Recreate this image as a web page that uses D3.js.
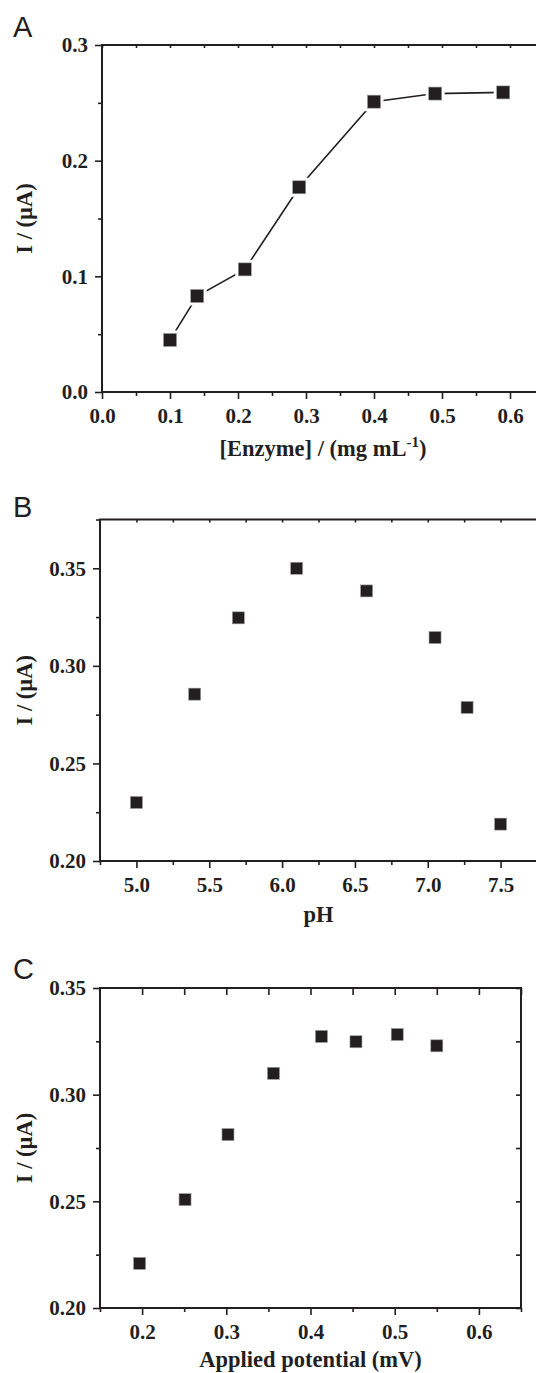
<!DOCTYPE html>
<meta charset="utf-8">
<style>
  body { margin: 0; background: #fff; }
  svg { display: block; }
  .tick text { font: bold 21px "Liberation Serif", "Times New Roman", serif; fill: #231f20; }
  .tick line { stroke: #231f20; stroke-width: 1.6px; }
  .domain { display: none; }
  .title { font: bold 22.5px "Liberation Serif", "Times New Roman", serif; fill: #231f20; }
  .letter { font: 29px "Liberation Sans", Arial, sans-serif; fill: #231f20; }
</style>
<body>
  <div id="svg_frame"></div>
</body>
<script src="https://cdnjs.cloudflare.com/ajax/libs/d3/7.8.5/d3.min.js"></script>
<script>
  // panel A: enzyme loading
  var enzyme = [0.10, 0.14, 0.21, 0.29, 0.40, 0.49, 0.59];
  var currentA = [0.045, 0.083, 0.106, 0.177, 0.251, 0.258, 0.259];
  var ticksAx = [0.0, 0.1, 0.2, 0.3, 0.4, 0.5, 0.6];
  var ticksAy = [0.0, 0.1, 0.2, 0.3];

  // panel B: pH
  var pH = [5.0, 5.4, 5.7, 6.1, 6.58, 7.05, 7.27, 7.5];
  var currentB = [0.230, 0.2855, 0.3246, 0.350, 0.3384, 0.3145, 0.2787, 0.2189];
  var ticksBx = [5.0, 5.5, 6.0, 6.5, 7.0, 7.5];
  var ticksBy = [0.20, 0.25, 0.30, 0.35];

  // panel C: applied potential
  var potential = [0.197, 0.251, 0.302, 0.356, 0.413, 0.454, 0.503, 0.550];
  var currentC = [0.2209, 0.2508, 0.2813, 0.310, 0.3273, 0.3248, 0.3282, 0.3229];
  var ticksCx = [0.2, 0.3, 0.4, 0.5, 0.6];
  var ticksCy = [0.20, 0.25, 0.30, 0.35];

  var ink = "#231f20";

  var svg = d3.select("#svg_frame").append("svg")
    .attr("width", 536)
    .attr("height", 1373);

  // minor ticks halfway between majors
  function halves(major, lo, hi) {
    var step = major[1] - major[0];
    var out = [];
    for (var v = major[0] - step / 2; v <= hi + 1e-9; v += step) {
      if (v >= lo - 1e-9) out.push(+v.toFixed(4));
    }
    return out;
  }

  function panel(cfg) {
    var x = d3.scaleLinear().domain(cfg.xDomain).range([cfg.left, cfg.right]);
    var y = d3.scaleLinear().domain(cfg.yDomain).range([cfg.bottom, cfg.top]);
    var g = svg.append("g");

    var xMinor = halves(cfg.xTicks, cfg.xDomain[0], cfg.xDomain[1]);
    var yMinor = halves(cfg.yTicks, cfg.yDomain[0], cfg.yDomain[1]);

    // bottom axis
    g.append("g").attr("transform", "translate(0," + cfg.bottom + ")")
      .call(d3.axisBottom(x).tickValues(xMinor).tickSize(4).tickFormat(""));
    g.append("g").attr("transform", "translate(0," + cfg.bottom + ")")
      .call(d3.axisBottom(x).tickValues(cfg.xTicks).tickSize(7).tickPadding(9)
        .tickFormat(d3.format(cfg.xFormat)));

    // left axis
    g.append("g").attr("transform", "translate(" + cfg.left + ",0)")
      .call(d3.axisLeft(y).tickValues(yMinor).tickSize(4).tickFormat(""));
    g.append("g").attr("transform", "translate(" + cfg.left + ",0)")
      .call(d3.axisLeft(y).tickValues(cfg.yTicks).tickSize(7).tickPadding(7)
        .tickFormat(d3.format(cfg.yFormat)));

    // top axis, ticks pointing in
    g.append("g").attr("transform", "translate(0," + cfg.top + ")")
      .call(d3.axisTop(x).tickValues(cfg.topTicks).tickSize(-cfg.topLen).tickFormat(""));

    // right axis (only C shows it)
    if (cfg.rightAxis) {
      g.append("g").attr("transform", "translate(" + cfg.right + ",0)")
        .call(d3.axisRight(y).tickValues(cfg.yTicks.concat(yMinor)).tickSize(-5).tickFormat(""));
    }

    // frame
    g.append("rect")
      .attr("x", cfg.left).attr("y", cfg.top)
      .attr("width", cfg.right - cfg.left).attr("height", cfg.bottom - cfg.top)
      .attr("fill", "none").attr("stroke", ink).attr("stroke-width", 2);

    var pts = cfg.xs.map(function (d, i) { return [d, cfg.ys[i]]; });

    if (cfg.line) {
      g.append("path")
        .datum(pts)
        .attr("fill", "none")
        .attr("stroke", ink)
        .attr("stroke-width", 1.6)
        .attr("d", d3.line().x(function (d) { return x(d[0]); }).y(function (d) { return y(d[1]); }));
      // white halo so the line stops short of each marker
      g.selectAll(".halo").data(pts).enter().append("rect")
        .attr("class", "halo")
        .attr("x", function (d) { return x(d[0]) - 9.5; })
        .attr("y", function (d) { return y(d[1]) - 9.5; })
        .attr("width", 19).attr("height", 19)
        .attr("fill", "#fff");
    }

    var s = cfg.marker;
    g.selectAll(".mark").data(pts).enter().append("rect")
      .attr("class", "mark")
      .attr("x", function (d) { return x(d[0]) - s / 2; })
      .attr("y", function (d) { return y(d[1]) - s / 2; })
      .attr("width", s).attr("height", s)
      .attr("fill", ink)
      .attr("stroke", "#9a9a9a")
      .attr("stroke-width", 0.6);

    // panel letter
    g.append("text").attr("class", "letter")
      .attr("x", 13).attr("y", cfg.letterY)
      .text(cfg.letter);

    // y title
    g.append("text").attr("class", "title")
      .attr("transform", "translate(32," + ((cfg.top + cfg.bottom) / 2) + ") rotate(-90)")
      .attr("text-anchor", "middle")
      .text("I / (\u00b5A)");

    // x title
    var xt = g.append("text").attr("class", "title")
      .attr("x", (cfg.left + cfg.right) / 2)
      .attr("y", cfg.bottom + cfg.titleGap)
      .attr("text-anchor", "middle");
    xt.append("tspan").text(cfg.xTitle);
    if (cfg.xSup) {
      xt.append("tspan").attr("font-size", "15px").attr("dy", -9).text(cfg.xSup);
      xt.append("tspan").attr("dy", 9).text(cfg.xTail);
    }
  }

  panel({
    letter: "A", letterY: 37,
    left: 102, right: 544, top: 45, bottom: 392,
    xDomain: [0, 0.65], yDomain: [0, 0.3],
    xTicks: ticksAx, yTicks: ticksAy, xFormat: ".1f", yFormat: ".1f",
    topTicks: d3.range(0, 0.66, 0.05), topLen: 3,
    xs: enzyme, ys: currentA, line: true, marker: 13,
    xTitle: "[Enzyme] / (mg mL", xSup: "-1", xTail: ")", titleGap: 64
  });

  panel({
    letter: "B", letterY: 517,
    left: 100, right: 537, top: 519.5, bottom: 861,
    xDomain: [4.75, 7.75], yDomain: [0.2, 0.375],
    xTicks: ticksBx, yTicks: ticksBy, xFormat: ".1f", yFormat: ".2f",
    topTicks: d3.range(5.0, 7.76, 0.25), topLen: 3,
    xs: pH, ys: currentB, line: false, marker: 12,
    xTitle: "pH", titleGap: 61
  });

  panel({
    letter: "C", letterY: 979,
    left: 100, right: 521, top: 988, bottom: 1308,
    xDomain: [0.15, 0.65], yDomain: [0.2, 0.35],
    xTicks: ticksCx, yTicks: ticksCy, xFormat: ".1f", yFormat: ".2f",
    topTicks: d3.range(0.2, 0.651, 0.05), topLen: 7,
    xs: potential, ys: currentC, line: false, marker: 12,
    rightAxis: true,
    xTitle: "Applied potential (mV)", titleGap: 59
  });
</script>
